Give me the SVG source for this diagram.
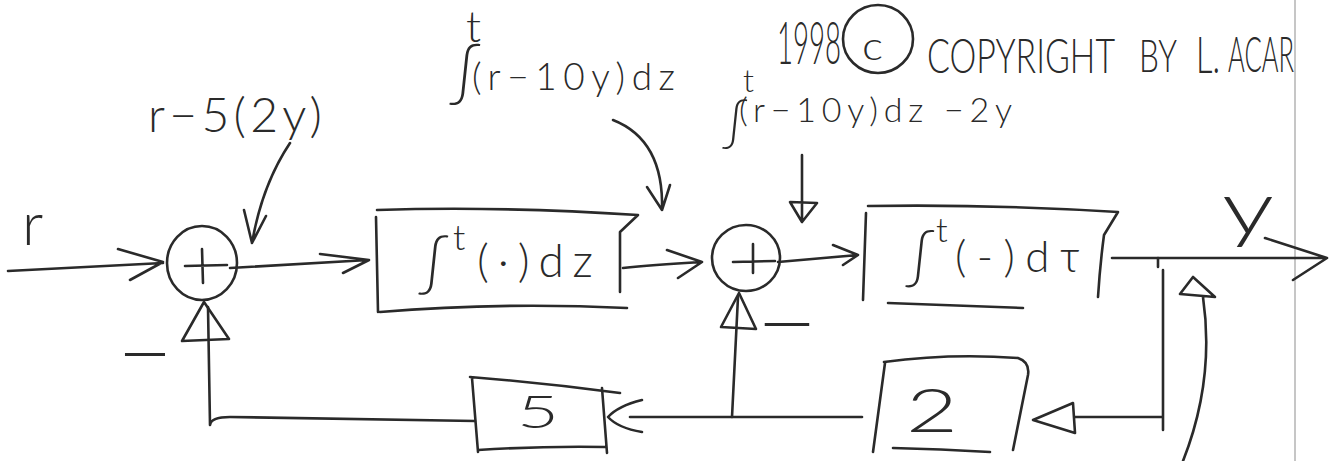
<svg xmlns="http://www.w3.org/2000/svg" width="1336" height="461" viewBox="0 0 1336 461">
<style>
.ln{fill:none;stroke:#2a2a2a;stroke-width:2.6;stroke-linecap:round;stroke-linejoin:round}
.tx{font-family:Lato,"Liberation Sans",Arial,sans-serif;font-weight:300;fill:#2a2a2a}
.rg{font-weight:400}
.edge{stroke:#a0a0a0;stroke-width:1.2}
</style>
<rect width="1336" height="461" fill="#ffffff"/>
<line class="edge" x1="1295" y1="0" x2="1295" y2="461"/>

<g id="sum1">
<ellipse class="ln" cx="202" cy="263" rx="35" ry="37"/>
<path class="ln" d="M185,266 L227,265 M202,249 L203,283"/>
</g>

<g id="int1">
<path class="ln" d="M377,210 Q500,206 638,215 L620,232 L620,292 M376,217 L378,312 M380,312 Q500,302 627,308"/>
<text class="tx" x="418" y="284" font-size="60">∫</text>
<text class="tx" x="453" y="250" font-size="36">t</text>
<text class="tx" x="477" y="277" font-size="46" textLength="116" lengthAdjust="spacing">(·)dz</text>
</g>

<g id="sum2">
<ellipse class="ln" cx="746" cy="258" rx="34" ry="33"/>
<path class="ln" d="M733,262 L775,261 M753,244 L753,273"/>
</g>

<g id="int2">
<path class="ln" d="M868,206 Q990,204 1118,212 L1104,235 Q1100,265 1098,297 M866,213 L863,300 M888,303 L1023,308"/>
<text class="tx" x="905" y="277" font-size="58">∫</text>
<text class="tx" x="936" y="242" font-size="34">t</text>
<text class="tx" x="955" y="272" font-size="44" textLength="125" lengthAdjust="spacing">(-)dτ</text>
</g>

<g id="gain5">
<path class="ln" d="M470,377 Q545,383 620,393 M472,378 L478,452 M478,450 Q540,446 605,447 M602,388 L607,453"/>
<text class="tx" x="517" y="428" font-size="46" textLength="42" lengthAdjust="spacingAndGlyphs">5</text>
</g>

<g id="gain2">
<path class="ln" d="M884,362 Q950,353 1018,358 Q1030,362 1028,375 L1013,450 M885,363 L873,452 M893,448 Q940,449 990,452"/>
<text class="tx" x="906" y="432" font-size="62" textLength="52" lengthAdjust="spacingAndGlyphs">2</text>
</g>

<g id="labels">
<text class="tx" x="22" y="245" font-size="60">r</text>
<text class="tx" x="148" y="132" font-size="48" textLength="174" lengthAdjust="spacing">r−5(2y)</text>
<text class="tx" x="466" y="42" font-size="44">t</text>
<text class="tx" x="449" y="94" font-size="62">∫</text>
<text class="tx" x="472" y="90" font-size="37" textLength="203" lengthAdjust="spacing">(r−10y)dz</text>
<text class="tx" x="743" y="92" font-size="32">t</text>
<text class="tx" x="722" y="140" font-size="50">∫</text>
<text class="tx" x="739" y="122" font-size="34" textLength="273" lengthAdjust="spacing">(r−10y)dz −2y</text>
<text class="tx" x="777" y="64" font-size="60" textLength="64" lengthAdjust="spacingAndGlyphs">1998</text>
<ellipse class="ln" cx="878" cy="39" rx="35" ry="34"/>
<text class="tx" x="862" y="60" font-size="40" textLength="21" lengthAdjust="spacingAndGlyphs">c</text>
<text class="tx" x="927" y="73" font-size="48" textLength="188" lengthAdjust="spacingAndGlyphs">COPYRIGHT</text>
<text class="tx" x="1139" y="72" font-size="46" textLength="38" lengthAdjust="spacingAndGlyphs">BY</text>
<text class="tx" x="1196" y="73" font-size="52" textLength="24" lengthAdjust="spacingAndGlyphs">L.</text>
<text class="tx" x="1228" y="72" font-size="50" textLength="66" lengthAdjust="spacingAndGlyphs">ACAR</text>
<text class="tx" x="1222" y="234" font-size="74" textLength="52" lengthAdjust="spacingAndGlyphs">y</text>
<text class="tx rg" x="118" y="370" font-size="44" textLength="54" lengthAdjust="spacingAndGlyphs">−</text>
<text class="tx rg" x="757" y="340" font-size="44" textLength="60" lengthAdjust="spacingAndGlyphs">−</text>
</g>

<g id="connectors">
<path class="ln" d="M8,271 L163,263 M118,249 L163,262 L130,280"/>
<path class="ln" d="M230,268 L368,260 M320,254 L369,260 L343,273"/>
<path class="ln" d="M623,268 Q650,265 702,262 M667,250 L702,262 L678,278"/>
<path class="ln" d="M778,262 L858,255 M833,245 L858,255 L843,265"/>
<path class="ln" d="M1112,258 L1325,258 M1265,238 L1327,258 L1293,280"/>
<path class="ln" d="M1158,258 L1158,267 M1163,270 L1163,430 M1163,417 L1075,417"/>
<path class="ln" d="M1033,420 L1073,403 L1075,433 Z"/>
<path class="ln" d="M862,417 L630,417"/>
<path class="ln" d="M642,400 Q618,406 608,417 Q618,428 642,432"/>
<path class="ln" d="M732,417 L738,297"/>
<path class="ln" d="M739,293 L721,327 L756,329 Z"/>
<path class="ln" d="M475,421 L230,417 Q211,417 210,425 L208,307"/>
<path class="ln" d="M204,302 L182,341 L229,339 Z"/>
<path class="ln" d="M290,143 Q262,185 252,243 M244,210 L252,243 L266,216"/>
<path class="ln" d="M613,120 Q664,140 662,210 M647,187 L662,210 L670,185"/>
<path class="ln" d="M802,155 L802,220 M790,202 L817,203 L802,222 Z"/>
<path class="ln" d="M1183,461 Q1215,380 1203,297 M1193,277 L1180,294 L1215,297 Z"/>
</g>
</svg>
